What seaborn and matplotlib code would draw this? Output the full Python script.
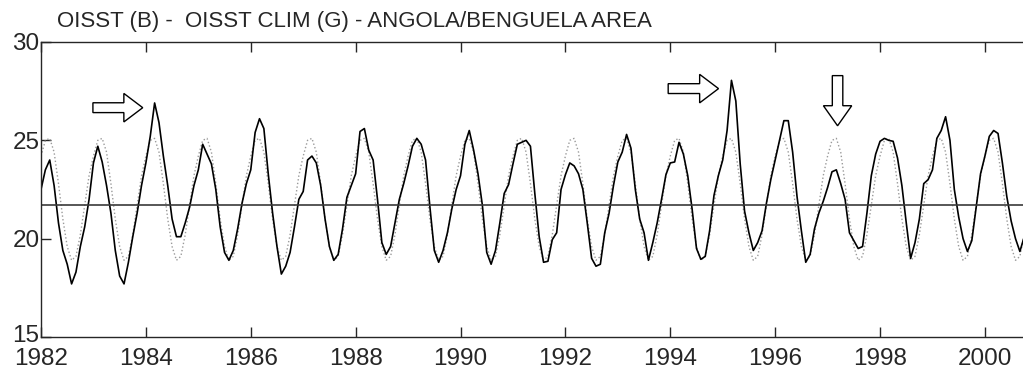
import numpy as np
import pandas as pd
import seaborn as sns
import matplotlib.pyplot as plt
import matplotlib.transforms as mtransforms

# monthly OISST (black line), Jan 1982 .. Oct 2000
sst_1982 = [22.5, 23.5, 24.0, 22.7, 20.8, 19.4, 18.7, 17.7, 18.3, 19.6, 20.6, 22.0]
sst_1983 = [23.85, 24.7, 23.9, 22.7, 21.3, 19.4, 18.1, 17.7, 18.8, 20.1, 21.3, 22.7]
sst_1984 = [23.85, 25.2, 26.9, 25.9, 24.2, 22.7, 21.0, 20.1, 20.1, 20.8, 21.6, 22.7]
sst_1985 = [23.5, 24.8, 24.3, 23.8, 22.5, 20.6, 19.3, 18.9, 19.4, 20.5, 21.8, 22.8]
sst_1986 = [23.5, 25.4, 26.1, 25.6, 23.3, 21.3, 19.6, 18.2, 18.6, 19.3, 20.6, 22.0]
sst_1987 = [22.4, 24.0, 24.2, 23.85, 22.7, 21.0, 19.6, 18.9, 19.2, 20.5, 22.1, 22.7]
sst_1988 = [23.3, 25.45, 25.6, 24.5, 24.0, 22.0, 19.8, 19.2, 19.6, 20.8, 22.0, 22.8]
sst_1989 = [23.7, 24.7, 25.1, 24.8, 24.0, 21.6, 19.4, 18.8, 19.4, 20.3, 21.5, 22.5]
sst_1990 = [23.2, 24.8, 25.5, 24.5, 23.3, 21.7, 19.3, 18.7, 19.4, 20.8, 22.3, 22.75]
sst_1991 = [23.8, 24.8, 24.9, 25.0, 24.7, 22.3, 20.1, 18.8, 18.85, 19.95, 20.3, 22.5]
sst_1992 = [23.25, 23.85, 23.7, 23.3, 22.5, 20.8, 19.0, 18.6, 18.7, 20.3, 21.3, 22.7]
sst_1993 = [23.9, 24.4, 25.3, 24.6, 22.5, 21.0, 20.3, 18.9, 19.8, 20.8, 22.0, 23.25]
sst_1994 = [23.85, 23.9, 24.9, 24.3, 23.2, 21.5, 19.5, 18.95, 19.1, 20.4, 22.2, 23.2]
sst_1995 = [24.0, 25.5, 28.05, 27.0, 23.8, 21.4, 20.3, 19.4, 19.8, 20.4, 21.8, 23.0]
sst_1996 = [24.0, 25.0, 26.0, 26.0, 24.4, 22.15, 20.4, 18.8, 19.2, 20.5, 21.3, 21.9]
sst_1997 = [22.6, 23.4, 23.5, 22.8, 22.0, 20.3, 19.9, 19.5, 19.6, 21.3, 23.2, 24.3]
sst_1998 = [24.95, 25.1, 25.0, 24.95, 24.1, 22.7, 20.8, 19.0, 19.8, 21.0, 22.8, 23.0]
sst_1999 = [23.5, 25.1, 25.5, 26.2, 25.0, 22.5, 21.1, 20.0, 19.35, 19.9, 21.6, 23.3]
sst_2000 = [24.2, 25.2, 25.5, 25.35, 23.85, 22.15, 20.9, 20.0, 19.35, 20.1]

# monthly climatology (gray dotted line), Jan..Dec
clim = [24.2, 25.0, 25.1, 24.4, 22.8, 21.0, 19.6, 18.9, 19.1, 20.2, 21.7, 23.2]

ref_level = 21.7
title = "OISST (B) -  OISST CLIM (G) - ANGOLA/BENGUELA AREA"
year_ticks = list(range(1982, 2001, 2))

sst = np.concatenate([sst_1982, sst_1983, sst_1984, sst_1985, sst_1986, sst_1987,
                      sst_1988, sst_1989, sst_1990, sst_1991, sst_1992, sst_1993,
                      sst_1994, sst_1995, sst_1996, sst_1997, sst_1998, sst_1999,
                      sst_2000])
time = 1982 + np.arange(len(sst)) / 12
df = pd.DataFrame({"time": time, "sst": sst,
                   "clim": np.tile(clim, 19)[:len(sst)]})

sns.set_style("ticks")
plt.rcParams["font.family"] = ["Liberation Sans", "DejaVu Sans"]

fig = plt.figure(figsize=(10.23, 3.70), dpi=100)
ax = fig.add_axes([41 / 1023, 33 / 370, 982 / 1023, 295 / 370])

sns.lineplot(data=df, x="time", y="clim", ax=ax, color="#9a9a9a",
             linestyle=":", linewidth=1.0)
sns.lineplot(data=df, x="time", y="sst", ax=ax, color="black", linewidth=1.2)
ax.axhline(ref_level, color="#3a3a3a", linewidth=1.2)

arrow_kw = dict(length_includes_head=True, fc="white", ec="black", lw=1.0, zorder=5)
ax.arrow(1982.99, 26.66, 0.95, 0, width=0.5, head_width=1.45, head_length=0.36, **arrow_kw)
ax.arrow(1993.96, 27.63, 0.96, 0, width=0.5, head_width=1.45, head_length=0.36, **arrow_kw)
ax.arrow(1997.19, 28.29, 0, -2.55, width=0.2, head_width=0.54, head_length=1.02, **arrow_kw)

ax.set_xlim(1982, 1982 + 982 / 52.44)
ax.set_ylim(15, 30)
ax.set_xticks(year_ticks)
ax.set_yticks([15, 20, 25, 30])
ax.set_xlabel("")
ax.set_ylabel("")
ax.tick_params(direction="in", length=7, width=1, labelsize=17.5, pad=1,
               top=True, right=False)
ax.tick_params(axis="x", pad=8)
ax.spines["right"].set_visible(False)
for s in ["left", "top", "bottom"]:
    ax.spines[s].set_linewidth(1.0)

# lift the lowest y label a little so it clears the first year label
lowest = ax.get_yticklabels()[0]
lowest.set_transform(lowest.get_transform()
                     + mtransforms.ScaledTranslation(0, 4 / 100, fig.dpi_scale_trans))

fig.text(57 / 1023, 1 - 22 / 370, title, fontsize=16, va="center", ha="left")

fig.savefig("out.png", dpi=100)
plt.close(fig)
